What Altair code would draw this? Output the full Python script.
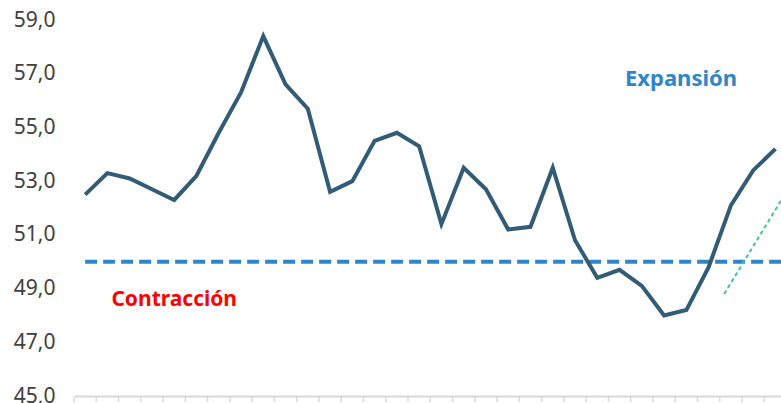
import altair as alt
import pandas as pd

values = [52.5, 53.3, 53.1, 52.7, 52.3, 53.2, 54.8, 56.3, 58.4, 56.6, 55.7, 52.6,
          53.0, 54.5, 54.8, 54.3, 51.4, 53.5, 52.7, 51.2, 51.3, 53.5, 50.8, 49.4,
          49.7, 49.1, 48.0, 48.2, 49.8, 52.1, 53.4, 54.2]
y_ticks = [45, 47, 49, 51, 53, 55, 57, 59]
threshold = 50
trend_x = [28.7, 32.0]
trend_y = [48.8, 53.3]
labels = ["Expansión", "Contracción"]
label_x = [26.76, 4.0]
label_y = [56.54, 48.35]
label_size = [22, 21]
label_colors = ["#2E86C8", "#FF0000"]
boundaries = [i - 0.5 for i in range(len(values))]

df = pd.DataFrame({"i": list(range(len(values))), "v": values})
thr = pd.DataFrame({"i": [0, 31.25], "v": [threshold, threshold]})
trend = pd.DataFrame({"i": trend_x, "v": trend_y})
txt = pd.DataFrame({"i": label_x, "v": label_y, "t": labels, "c": label_colors, "s": label_size})
ticks = pd.DataFrame({"b": boundaries})

xscale = alt.Scale(domain=[-0.5, 31.25], nice=False, zero=False)
yscale = alt.Scale(domain=[45, 59], nice=False, zero=False)

xaxis = alt.Axis(labels=False, title=None, ticks=False,
                 domainColor="#d9d9d9", domainWidth=2, grid=False)
yaxis = alt.Axis(values=y_ticks, title=None, ticks=False, domain=False, grid=False,
                 labelExpr="replace(format(datum.value, '.1f'), '.', ',')",
                 labelFont="Noto Sans", labelFontSize=21, labelColor="#404040",
                 labelPadding=19)

base_x = alt.X("i:Q", scale=xscale, axis=xaxis)
base_y = alt.Y("v:Q", scale=yscale, axis=yaxis)

thr_line = alt.Chart(thr).mark_line(color="#2E86C8", strokeWidth=4, strokeDash=[12, 6], clip=True).encode(
    x=base_x, y=base_y)
tick_marks = alt.Chart(ticks).mark_rule(color="#d9d9d9", strokeWidth=1.5).encode(
    x="b:Q", y=alt.value(377), y2=alt.value(382))
trend_line = alt.Chart(trend).mark_line(color="#3CC98F", strokeWidth=2, strokeDash=[4, 3], clip=True).encode(
    x="i:Q", y="v:Q")
main_line = alt.Chart(df).mark_line(color="#325C75", strokeWidth=4, clip=True).encode(
    x="i:Q", y="v:Q")
text = alt.Chart(txt).mark_text(font="Noto Sans", fontWeight="bold",
                                align="center", baseline="alphabetic").encode(
    x="i:Q", y="v:Q", text="t:N", color=alt.Color("c:N", scale=None),
    size=alt.Size("s:Q", scale=None, legend=None))

chart = alt.layer(thr_line, tick_marks, trend_line, main_line, text).properties(
    width=707, height=376,
    autosize=alt.AutoSizeParams(type="none"),
    padding={"left": 74, "top": 20, "right": 0, "bottom": 7},
    background="white",
).configure_view(stroke=None)

chart.save("out.html", embed_options={"renderer": "svg", "actions": False})
